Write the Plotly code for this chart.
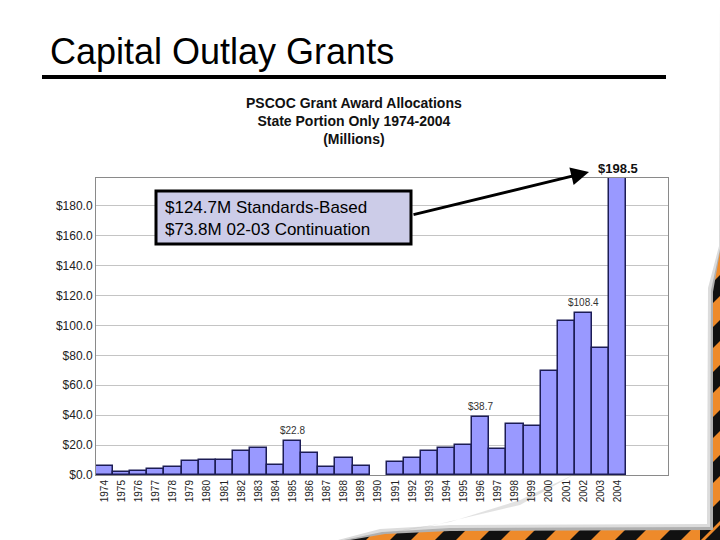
import plotly.graph_objects as go

years = ["1974", "1975", "1976", "1977", "1978", "1979", "1980", "1981", "1982", "1983",
         "1984", "1985", "1986", "1987", "1988", "1989", "1990", "1991", "1992", "1993",
         "1994", "1995", "1996", "1997", "1998", "1999", "2000", "2001", "2002", "2003", "2004"]
grants = [6.0, 2.0, 2.9, 3.8, 5.3, 9.1, 10.0, 10.0, 15.8, 17.8,
          6.7, 22.8, 14.7, 5.3, 11.1, 6.2, None, 8.9, 11.1, 15.8,
          18.0, 20.0, 38.7, 17.3, 34.4, 32.9, 69.8, 102.7, 108.4, 84.7, 198.5]
labeled_years = ["1985", "1996", "2002"]
y_ticks = [0, 20, 40, 60, 80, 100, 120, 140, 160, 180]
y_ticktext = ["&#36;%.1f" % v for v in y_ticks]

W, H = 720, 540
ML, MR, MT, MB = 96, 52, 178, 65
PW, PH = W - ML - MR, H - MT - MB


def px(x):
    return (x - ML) / PW


def py(y):
    return (H - MB - y) / PH


def path(points, close=True):
    s = "M " + " L ".join(f"{px(a):.5f},{py(b):.5f}" for a, b in points)
    return s + (" Z" if close else "")


fig = go.Figure()
fig.add_trace(go.Bar(
    x=years, y=grants,
    marker=dict(color="#9999FF", line=dict(color="#1c1c55", width=1.5)),
    width=1.0, hoverinfo="skip",
))

shapes = []
ORANGE = "#EE8A2A"
# hazard band
shapes.append(dict(type="path", xref="paper", yref="paper", layer="below",
                   path=path([(330, 540), (720, 540), (720, 240), (700, 240), (700, 522), (330, 522)]),
                   fillcolor=ORANGE, line=dict(width=0)))
x0 = 300
while x0 < 720:
    shapes.append(dict(type="path", xref="paper", yref="paper", layer="below",
                       path=path([(x0, 540), (x0 + 21, 540), (x0 + 39, 522), (x0 + 18, 522)]),
                       fillcolor="#111111", line=dict(width=0)))
    x0 += 45
y0 = 250
while y0 < 540:
    shapes.append(dict(type="path", xref="paper", yref="paper", layer="below",
                       path=path([(700, y0), (700, y0 + 21), (720, y0 + 1), (720, y0 - 20)]),
                       fillcolor="#111111", line=dict(width=0)))
    y0 += 45
# page shadow and page
shapes.append(dict(type="path", xref="paper", yref="paper", layer="below",
                   path=path([(0, 0), (720, 0), (720, 252), (713, 292), (713, 530), (450, 531),
                              (385, 534), (350, 540), (0, 540)]),
                   fillcolor="#b0b0b0", line=dict(width=0)))
shapes.append(dict(type="path", xref="paper", yref="paper", layer="below",
                   path=path([(0, 0), (720, 0), (720, 249), (711, 290), (710, 527), (450, 528),
                              (382, 532), (344, 540), (0, 540)]),
                   fillcolor="#dcdcdc", line=dict(width=0)))
shapes.append(dict(type="path", xref="paper", yref="paper", layer="below",
                   path=path([(0, 0), (720, 0), (719, 246), (708, 288), (707, 524), (450, 525),
                              (380, 529), (338, 540), (0, 540)]),
                   fillcolor="white", line=dict(width=0)))
# page curl hint
shapes.append(dict(type="path", xref="paper", yref="paper", layer="below",
                   path=path([(575, 474), (520, 500), (450, 522), (362, 537), (430, 526), (520, 505)]),
                   fillcolor="rgba(160,160,160,0.3)", line=dict(width=0)))
# title rule
shapes.append(dict(type="line", xref="paper", yref="paper",
                   x0=px(42), x1=px(666), y0=py(77), y1=py(77),
                   line=dict(color="black", width=4)))
# callout box
shapes.append(dict(type="rect", xref="paper", yref="paper",
                   x0=px(156), x1=px(411), y0=py(191), y1=py(244),
                   fillcolor="#CCCCE8", line=dict(color="black", width=3)))

FONT = "Arial, Liberation Sans, sans-serif"
annotations = [
    dict(text="Capital Outlay Grants", xref="paper", yref="paper", x=px(48), y=py(52),
         xanchor="left", yanchor="middle", showarrow=False,
         font=dict(family=FONT, size=36, color="black")),
    dict(text="<b>PSCOC Grant Award Allocations<br>State Portion Only 1974-2004<br>(Millions)</b>",
         xref="paper", yref="paper", x=px(354), y=py(121), xanchor="center", yanchor="middle",
         showarrow=False, align="center",
         font=dict(family=FONT, size=14, color="#111111")),
    dict(text="&#36;124.7M Standards-Based<br>&#36;73.8M 02-03 Continuation", xref="paper", yref="paper",
         x=px(163), y=py(218), xanchor="left", yanchor="middle", showarrow=False, align="left",
         font=dict(family=FONT, size=17, color="black")),
    dict(text="", xref="paper", yref="paper", x=px(589), y=py(172), ax=-177, ay=43,
         showarrow=True, arrowhead=2, arrowsize=1.2,
         arrowwidth=3, arrowcolor="black"),
]
for i, (yr, v) in enumerate(zip(years, grants)):
    if yr in labeled_years:
        annotations.append(dict(text="&#36;%.1f" % v, x=i, y=v, xref="x", yref="y",
                                yanchor="bottom", yshift=3, showarrow=False,
                                font=dict(family=FONT, size=10, color="#333333")))
annotations.append(dict(text="<b>&#36;%.1f</b>" % grants[-1], x=len(years) - 1, y=grants[-1],
                        xref="x", yref="y", yanchor="bottom", yshift=0, showarrow=False,
                        font=dict(family=FONT, size=13, color="#111111")))

fig.update_layout(
    width=W, height=H,
    margin=dict(l=ML, r=MR, t=MT, b=MB, pad=0),
    paper_bgcolor="white", plot_bgcolor="rgba(0,0,0,0)",
    showlegend=False, bargap=0,
    shapes=shapes, annotations=annotations,
    font=dict(family=FONT),
)
fig.update_xaxes(type="category", range=[-0.5, 32.95], tickangle=-90,
                 tickfont=dict(size=10, color="#222222"), showgrid=False,
                 showline=True, linecolor="#8a8a8a", linewidth=1, mirror=True, ticks="")
fig.update_yaxes(range=[0, 198.5], tickvals=y_ticks, ticktext=y_ticktext,
                 tickfont=dict(size=12, color="#222222"), showgrid=True, gridcolor="#c4c4c4",
                 gridwidth=1, showline=True, linecolor="#8a8a8a", linewidth=1, mirror=True,
                 ticks="", zeroline=False)

fig.write_html("out.html", config={"displayModeBar": False},
               post_script="document.body.style.margin='0px';")
